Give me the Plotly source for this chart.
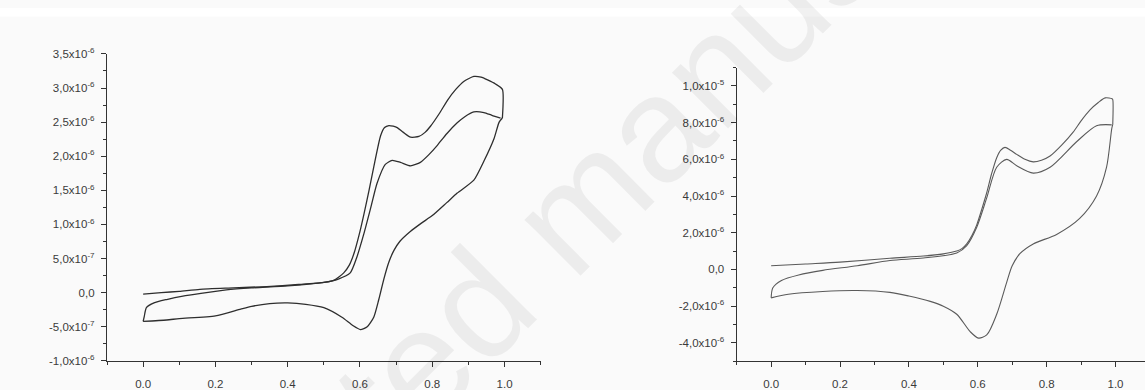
import plotly.graph_objects as go

# ---------------- left voltammogram (noisy trace) ----------------
left_fwd1_e = [0.0, 0.05, 0.1, 0.157, 0.25, 0.342, 0.43, 0.5, 0.527, 0.555, 0.57, 0.583, 0.6, 0.61,
               0.625, 0.638, 0.657, 0.668, 0.68, 0.692, 0.703, 0.72, 0.74, 0.763, 0.78, 0.795, 0.82,
               0.842, 0.865, 0.888, 0.915, 0.935, 0.953, 0.975, 0.994, 0.994]
left_fwd1_i = [-0.02, 0.0, 0.02, 0.05, 0.07, 0.09, 0.12, 0.15, 0.18, 0.29, 0.40, 0.57, 0.9, 1.13,
               1.5, 1.84, 2.30, 2.42, 2.45, 2.44, 2.42, 2.35, 2.28, 2.29, 2.35, 2.44, 2.63,
               2.82, 2.98, 3.10, 3.17, 3.16, 3.12, 3.06, 2.98, 2.56]
left_rev_e = [0.994, 0.985, 0.971, 0.943, 0.915, 0.869, 0.84, 0.8, 0.77, 0.74, 0.71, 0.694, 0.68,
              0.666, 0.652, 0.638, 0.62, 0.601, 0.58, 0.55, 0.5, 0.45, 0.4, 0.35, 0.3, 0.27, 0.2,
              0.1, 0.065, 0.0]
left_rev_i = [2.56, 2.50, 2.26, 1.93, 1.65, 1.46, 1.32, 1.13, 1.02, 0.90, 0.75, 0.62, 0.45,
              0.20, -0.10, -0.36, -0.50, -0.54, -0.48, -0.36, -0.22, -0.17, -0.15, -0.16, -0.20, -0.24, -0.34,
              -0.38, -0.40, -0.42]
left_fwd2_e = [0.0, 0.003, 0.009, 0.03, 0.065, 0.11, 0.16, 0.23, 0.3, 0.4, 0.5, 0.54, 0.573, 0.59,
               0.61, 0.63, 0.647, 0.67, 0.689, 0.712, 0.74, 0.767, 0.79, 0.814, 0.84, 0.869, 0.89,
               0.915, 0.943, 0.965, 0.989]
left_fwd2_i = [-0.42, -0.35, -0.22, -0.15, -0.10, -0.05, -0.01, 0.04, 0.07, 0.10, 0.15, 0.20, 0.29, 0.5,
               0.85, 1.25, 1.60, 1.88, 1.94, 1.91, 1.86, 1.91, 2.02, 2.16, 2.33, 2.49, 2.58,
               2.65, 2.64, 2.60, 2.56]

# ---------------- right voltammogram (smooth trace) ----------------
right_fwd1_e = [0.0, 0.1, 0.2, 0.345, 0.442, 0.5, 0.539, 0.555, 0.568, 0.583, 0.597, 0.612, 0.626,
                0.64, 0.655, 0.667, 0.679, 0.695, 0.713, 0.737, 0.761, 0.785, 0.81, 0.845, 0.877,
                0.9, 0.926, 0.95, 0.97, 0.99, 0.992, 0.992]
right_fwd1_i = [0.2, 0.3, 0.4, 0.61, 0.73, 0.85, 1.0, 1.15, 1.39, 1.85, 2.43, 3.3, 4.18,
                5.2, 6.09, 6.5, 6.65, 6.5, 6.27, 6.0, 5.86, 5.95, 6.18, 6.8, 7.48,
                8.1, 8.70, 9.1, 9.35, 9.3, 9.25, 7.9]
right_rev_e = [0.992, 0.989, 0.974, 0.945, 0.896, 0.829, 0.761, 0.723, 0.70, 0.684, 0.655, 0.626,
               0.602, 0.578, 0.539, 0.5, 0.462, 0.4, 0.345, 0.25, 0.15, 0.05, 0.0]
right_rev_i = [7.9, 7.66, 5.57, 4.0, 2.78, 1.91, 1.39, 0.87, 0.2, -0.70, -2.44, -3.57,
               -3.74, -3.39, -2.44, -2.0, -1.74, -1.45, -1.25, -1.15, -1.2, -1.35, -1.55]
right_fwd2_e = [0.0, 0.005, 0.03, 0.08, 0.15, 0.25, 0.345, 0.442, 0.539, 0.568, 0.597, 0.626, 0.655,
                0.684, 0.713, 0.761, 0.81, 0.887, 0.945, 0.989]
right_fwd2_i = [-1.55, -1.0, -0.6, -0.3, -0.05, 0.2, 0.49, 0.62, 0.9, 1.3, 2.3, 3.9, 5.57,
                6.0, 5.65, 5.25, 5.57, 6.96, 7.83, 7.88]

# ---------------- tick labels ----------------
x_tick_vals = [0.0, 0.2, 0.4, 0.6, 0.8, 1.0]
x_tick_text = ["0.0", "0.2", "0.4", "0.6", "0.8", "1.0"]

left_y_vals = [-1.0e-6, -5.0e-7, 0.0, 5.0e-7, 1.0e-6, 1.5e-6, 2.0e-6, 2.5e-6, 3.0e-6, 3.5e-6]
left_y_text = ["-1,0x10<sup>-6</sup>", "-5,0x10<sup>-7</sup>", "0,0", "5,0x10<sup>-7</sup>",
               "1,0x10<sup>-6</sup>", "1,5x10<sup>-6</sup>", "2,0x10<sup>-6</sup>",
               "2,5x10<sup>-6</sup>", "3,0x10<sup>-6</sup>", "3,5x10<sup>-6</sup>"]
right_y_vals = [-4.0e-6, -2.0e-6, 0.0, 2.0e-6, 4.0e-6, 6.0e-6, 8.0e-6, 1.0e-5]
right_y_text = ["-4,0x10<sup>-6</sup>", "-2,0x10<sup>-6</sup>", "0,0", "2,0x10<sup>-6</sup>",
                "4,0x10<sup>-6</sup>", "6,0x10<sup>-6</sup>", "8,0x10<sup>-6</sup>",
                "1,0x10<sup>-5</sup>"]

W, H = 1145, 390
BG = "#fafafa"
AX = "#333333"


def scaled(vals):
    return [v * 1e-6 for v in vals]


fig = go.Figure()

left_line = dict(color="#2e2e2e", width=1.3, shape="spline", smoothing=0.6)
right_line = dict(color="#5a5a5a", width=1.1, shape="spline", smoothing=0.8)

for ex, iy in [(left_fwd1_e, left_fwd1_i), (left_rev_e, left_rev_i), (left_fwd2_e, left_fwd2_i)]:
    fig.add_trace(go.Scatter(x=ex, y=scaled(iy), mode="lines", line=left_line,
                             xaxis="x", yaxis="y", showlegend=False, hoverinfo="skip"))
for ex, iy in [(right_fwd1_e, right_fwd1_i), (right_rev_e, right_rev_i), (right_fwd2_e, right_fwd2_i)]:
    fig.add_trace(go.Scatter(x=ex, y=scaled(iy), mode="lines", line=right_line,
                             xaxis="x2", yaxis="y2", showlegend=False, hoverinfo="skip"))

tick_font = dict(family="Liberation Sans, Arial, sans-serif", size=11.5, color="#3a3a3a")

common_axis = dict(showline=True, linecolor=AX, linewidth=1.3, ticks="outside", ticklen=5,
                   tickwidth=1.2, tickcolor=AX, showgrid=False, zeroline=False,
                   tickfont=tick_font, tickmode="array", fixedrange=True)
minor_x = dict(tickmode="linear", tick0=0, dtick=0.1, ticks="outside",
               ticklen=3, tickwidth=1.2, tickcolor=AX)

fig.update_layout(
    width=W, height=H, autosize=False,
    margin=dict(l=0, r=0, t=0, b=0),
    paper_bgcolor=BG, plot_bgcolor=BG,
    xaxis=dict(domain=[107 / W, 540.7 / W], range=[-0.1, 1.1], anchor="y",
               tickvals=x_tick_vals, ticktext=x_tick_text, ticklabelstandoff=7,
               minor=minor_x, **common_axis),
    yaxis=dict(domain=[1 - 369 / H, 1 - 48 / H], range=[-1.0e-6, 3.5e-6], anchor="x",
               tickvals=left_y_vals, ticktext=left_y_text, ticklabelstandoff=4,
               minor=dict(tickmode="linear", tick0=0, dtick=2.5e-7, ticks="outside",
                          ticklen=3, tickwidth=1.2, tickcolor=AX),
               **common_axis),
    xaxis2=dict(domain=[736.7 / W, 1.0], range=[-0.1, (W - 771) / 344.5], anchor="y2",
                tickvals=x_tick_vals, ticktext=x_tick_text, ticklabelstandoff=7,
                minor=minor_x, **common_axis),
    yaxis2=dict(domain=[1 - 369.3 / H, 1 - 62.3 / H], range=[-5.0e-6, 1.1e-5], anchor="x2",
                tickvals=right_y_vals, ticktext=right_y_text, ticklabelstandoff=4,
                minor=dict(tickmode="linear", tick0=0, dtick=1.0e-6, ticks="outside",
                           ticklen=3, tickwidth=1.2, tickcolor=AX),
                **common_axis),
)

# white page strip along the top edge
fig.add_shape(type="rect", xref="paper", yref="paper", x0=0, x1=1, y0=1 - 9 / H, y1=1,
              fillcolor="white", line=dict(width=0), layer="below")

# faint diagonal watermark (translucent so the plot shows through it)
fig.add_annotation(text="Accepted manuscript", xref="paper", yref="paper",
                   x=560 / W, y=1 - 225 / H, showarrow=False, textangle=-45,
                   font=dict(family="Liberation Sans, Arial, sans-serif", size=150,
                             color="rgba(0,0,0,0.055)"))

fig.write_html("out.html")
